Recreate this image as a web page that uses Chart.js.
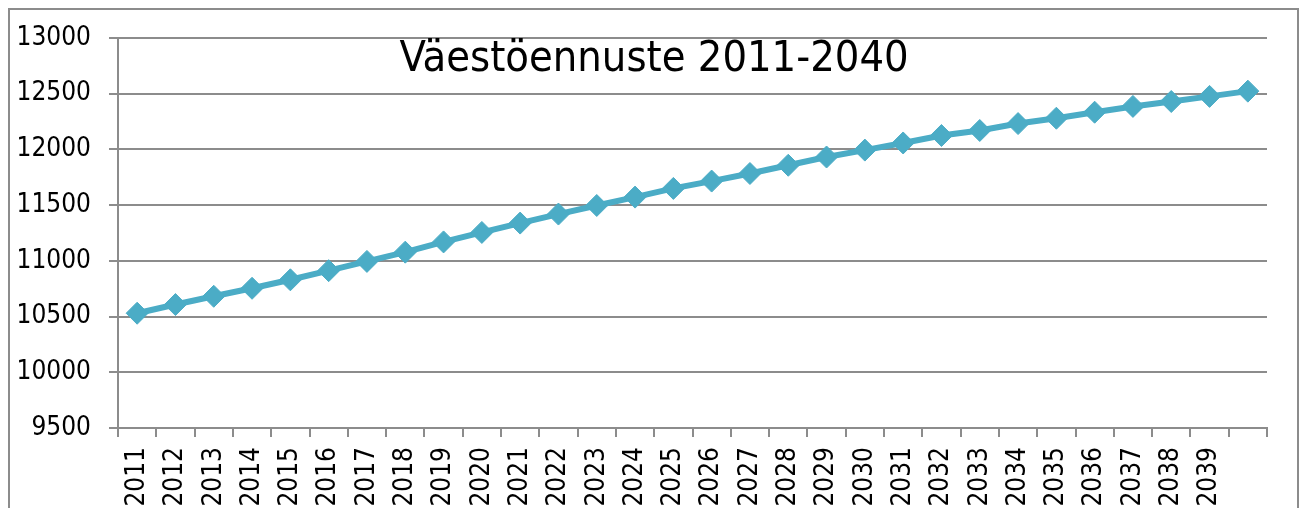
<!DOCTYPE html>
<html>
<head>
<meta charset="utf-8">
<script src="https://cdn.jsdelivr.net/npm/chart.js@4/dist/chart.umd.min.js"></script>
<style>
  html, body { margin: 0; padding: 0; background: #fff; overflow: hidden; }
  #wrap { position: relative; width: 1301px; height: 508px; }
  #frame { position: absolute; left: 8px; top: 8px; width: 1287px; height: 520px; border: 2px solid #8c8c8c; }
  #title {
    position: absolute; left: 0; width: 1308px; top: 31px; text-align: center;
    font-family: 'Liberation Sans Narrow', 'DejaVu Sans Condensed', sans-serif;
    font-size: 43px; color: #000; pointer-events: none;
  }
  canvas { position: absolute; left: 0; top: 0; }
</style>
</head>
<body>
<div id="wrap">
  <div id="frame"></div>
  <canvas id="chart" width="1301" height="508"></canvas>
  <div id="title">Väestöennuste 2011-2040</div>
</div>
<script>
/* ── Data ── */
const years = [
  '2011', '2012', '2013', '2014', '2015', '2016', '2017', '2018', '2019', '2020',
  '2021', '2022', '2023', '2024', '2025', '2026', '2027', '2028', '2029', '2030',
  '2031', '2032', '2033', '2034', '2035', '2036', '2037', '2038', '2039', '2040'
];
// last label is cut off in the reference
const shownLabels = years.map((y, i) => i === years.length - 1 ? '' : y);

const population = [
  10530, 10608, 10682, 10754, 10830, 10912, 10995, 11078, 11170, 11255,
  11339, 11420, 11497, 11572, 11650, 11716, 11784, 11858, 11932, 11994,
  12058, 12125, 12170, 12232, 12280, 12334, 12386, 12430, 12476, 12523
];

const yMin = 9500;
const yMax = 13000;
const yStep = 500;

const LINE = '#4bacc6';
const GRID = '#8c8c8c';
const FONT = "'Liberation Sans Narrow', 'DejaVu Sans Condensed', sans-serif";

new Chart(document.getElementById('chart'), {
  type: 'line',
  data: {
    labels: shownLabels,
    datasets: [{
      data: population,
      borderColor: LINE,
      backgroundColor: LINE,
      borderWidth: 6,
      tension: 0,
      pointStyle: 'rectRot',
      pointRadius: 11,
      pointBorderWidth: 1,
      pointBorderColor: LINE,
      pointBackgroundColor: LINE
    }]
  },
  options: {
    responsive: false,
    animation: false,
    layout: { padding: { left: 0, top: 38, right: 34, bottom: 0 } },
    plugins: { legend: { display: false }, tooltip: { enabled: false }, title: { display: false } },
    scales: {
      x: {
        offset: true,
        grid: { drawOnChartArea: false, drawTicks: true, tickLength: 9, color: GRID, lineWidth: 2, offset: true },
        border: { display: true, color: GRID, width: 2 },
        ticks: {
          autoSkip: false, maxRotation: 90, minRotation: 90, padding: 10,
          color: '#000', font: { family: FONT, size: 26 }
        },
        afterFit: s => { s.height = 80; }
      },
      y: {
        min: yMin, max: yMax,
        grid: { color: GRID, lineWidth: 2, tickLength: 9 },
        border: { display: true, color: GRID, width: 2 },
        ticks: {
          stepSize: yStep, padding: 18,
          color: '#000', font: { family: FONT, size: 26 },
          callback: v => String(v)
        },
        afterFit: s => { s.width = 118; }
      }
    }
  }
});
</script>
</body>
</html>
